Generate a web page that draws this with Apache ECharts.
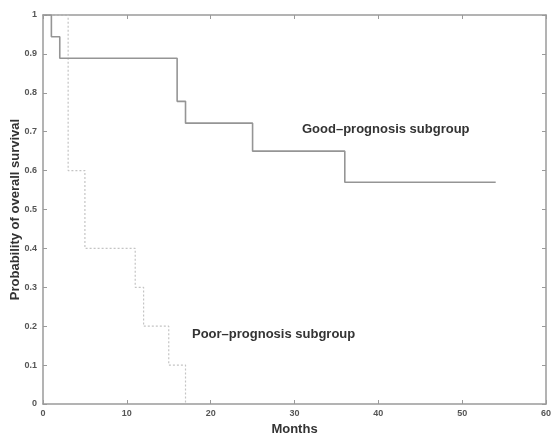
<!DOCTYPE html>
<html>
<head>
<meta charset="utf-8">
<script src="https://cdn.jsdelivr.net/npm/echarts@6/dist/echarts.min.js"></script>
<style>
  html, body { margin: 0; padding: 0; background: #fff; }
  #chart { width: 551px; height: 433px; }
</style>
</head>
<body>
<div id="chart"></div>
<script>
var chartDom = document.getElementById('chart');
var myChart = echarts.init(chartDom);

// Kaplan-Meier steps: month of each event, survival after it
var goodMonths = [0, 1, 2, 16, 17, 25, 36, 54];
var goodSurvival = [1, 0.944, 0.889, 0.778, 0.722, 0.65, 0.57, 0.57];

var poorMonths = [0, 3, 5, 11, 12, 15, 17];
var poorSurvival = [1, 0.6, 0.4, 0.3, 0.2, 0.1, 0];

var xTicks = [0, 10, 20, 30, 40, 50, 60];
var yTicks = [0, 0.1, 0.2, 0.3, 0.4, 0.5, 0.6, 0.7, 0.8, 0.9, 1];

function pairs(xs, ys) {
  return xs.map(function (x, i) { return [x, ys[i]]; });
}

var axisGray = '#9a9a9a';
var textCol = '#333';
var font = 'Liberation Sans, Arial, sans-serif';

var tickInside = { inside: true, length: 4, lineStyle: { color: axisGray, width: 1 } };
var boxLine = { show: true, onZero: false, lineStyle: { color: axisGray, width: 1.5 } };

var option = {
  animation: false,
  backgroundColor: '#fff',
  grid: { left: 43, right: 5, top: 15, bottom: 29, containLabel: false, outerBoundsMode: 'none' },
  xAxis: [
    {
      type: 'value', min: 0, max: 60, interval: 10, position: 'bottom',
      name: 'Months', nameLocation: 'middle', nameGap: 19,
      nameTextStyle: { fontSize: 13, fontWeight: 'bold', color: textCol, fontFamily: font },
      axisLine: boxLine,
      axisTick: tickInside,
      axisLabel: { fontSize: 9, fontWeight: 'bold', color: '#555', margin: 5, fontFamily: font,
        formatter: function (v) { return xTicks.indexOf(v) >= 0 ? String(v) : ''; } },
      splitLine: { show: false }
    },
    {
      type: 'value', min: 0, max: 60, interval: 10, position: 'top',
      axisLine: boxLine,
      axisTick: tickInside, axisLabel: { show: false }, splitLine: { show: false }
    }
  ],
  yAxis: [
    {
      type: 'value', min: 0, max: 1, interval: 0.1, position: 'left',
      name: 'Probability of overall survival', nameLocation: 'middle', nameGap: 21,
      nameMoveOverlap: false,
      nameTextStyle: { fontSize: 13, fontWeight: 'bold', color: textCol, fontFamily: font },
      axisLine: boxLine,
      axisTick: tickInside,
      axisLabel: { fontSize: 9, fontWeight: 'bold', color: '#555', margin: 6, fontFamily: font,
        formatter: function (v) {
          var r = Math.round(v * 10) / 10;
          return yTicks.indexOf(r) >= 0 ? String(r) : '';
        } },
      splitLine: { show: false }
    },
    {
      type: 'value', min: 0, max: 1, interval: 0.1, position: 'right',
      axisLine: boxLine,
      axisTick: tickInside, axisLabel: { show: false }, splitLine: { show: false }
    }
  ],
  series: [
    {
      name: 'Poor-prognosis',
      type: 'line', step: 'end', showSymbol: false,
      data: pairs(poorMonths, poorSurvival),
      lineStyle: { color: '#c4c4c4', width: 1.2, type: [2, 2] },
      z: 2
    },
    {
      name: 'Good-prognosis',
      type: 'line', step: 'end', showSymbol: false,
      data: pairs(goodMonths, goodSurvival),
      lineStyle: { color: '#959595', width: 1.6 },
      z: 3
    }
  ],
  graphic: [
    {
      type: 'text', left: 302, top: 123,
      style: { text: 'Good\u2013prognosis subgroup', fontSize: 13, fontWeight: 'bold', fontFamily: font, fill: '#333' }
    },
    {
      type: 'text', left: 192, top: 328,
      style: { text: 'Poor\u2013prognosis subgroup', fontSize: 13, fontWeight: 'bold', fontFamily: font, fill: '#333' }
    }
  ]
};

myChart.setOption(option);
window.addEventListener('resize', () => myChart.resize());
</script>
</body>
</html>
